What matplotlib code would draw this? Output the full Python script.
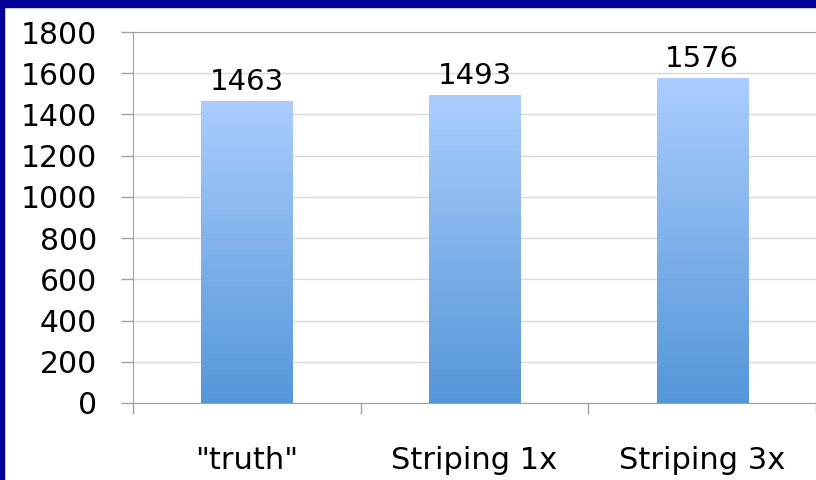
import matplotlib
matplotlib.use("Agg")
import matplotlib.pyplot as plt
import numpy as np
from matplotlib.colors import LinearSegmentedColormap
from matplotlib.patches import Rectangle

categories = ['"truth"', "Striping 1x", "Striping 3x"]
values = [1463, 1493, 1576]
yticks = [0, 200, 400, 600, 800, 1000, 1200, 1400, 1600, 1800]

plt.rcParams["font.family"] = ["DejaVu Sans"]

fig = plt.figure(figsize=(8.16, 4.8), dpi=100)
fig.patch.set_facecolor("white")

# navy frame along top and left edges
fig.patches.append(Rectangle((0, 1 - 7 / 480), 1, 7 / 480, transform=fig.transFigure,
                             color="#000099", zorder=10))
fig.patches.append(Rectangle((0, 0), 4 / 816, 1, transform=fig.transFigure,
                             color="#000099", zorder=10))

ax = fig.add_axes([133 / 816, 77 / 480, 683 / 816, 371 / 480])

cmap = LinearSegmentedColormap.from_list("bar", ["#5596d9", "#aacdfd"])
grad = np.linspace(0, 1, 256).reshape(-1, 1)
width = 0.4
for i, v in enumerate(values):
    x0 = i + 0.5 - width / 2
    rect = Rectangle((x0, 0), width, v, facecolor="none", edgecolor="none")
    ax.add_patch(rect)
    im = ax.imshow(grad, extent=[x0, x0 + width, 0, v], origin="lower",
                   cmap=cmap, aspect="auto", zorder=3)
    im.set_clip_path(rect)
    ax.annotate(str(v), (i + 0.5, v), xytext=(0, 4), textcoords="offset points",
                ha="center", va="bottom", fontsize=21, color="black")
ax.set_xlim(0, 3)
ax.set_ylim(0, 1800)

ax.set_yticks(yticks)
ax.set_yticklabels([str(t) for t in yticks], fontsize=21.5)
ax.tick_params(axis="y", length=9, width=1, color="#a0a0a0", pad=17)
ax.yaxis.grid(True, color="#d9d9d9", linewidth=1, zorder=0)
ax.set_axisbelow(True)

ax.set_xticks([0.5, 1.5, 2.5])
ax.set_xticklabels(categories, fontsize=22)
ax.set_xticks([0, 1, 2, 3], minor=True)
ax.tick_params(axis="x", which="major", length=0, pad=31)
ax.tick_params(axis="x", which="minor", length=8, width=1, color="#a0a0a0")

ax.spines["right"].set_visible(False)
for s in ["top", "left", "bottom"]:
    ax.spines[s].set_color("#a0a0a0")

fig.savefig("out.png", dpi=100)
